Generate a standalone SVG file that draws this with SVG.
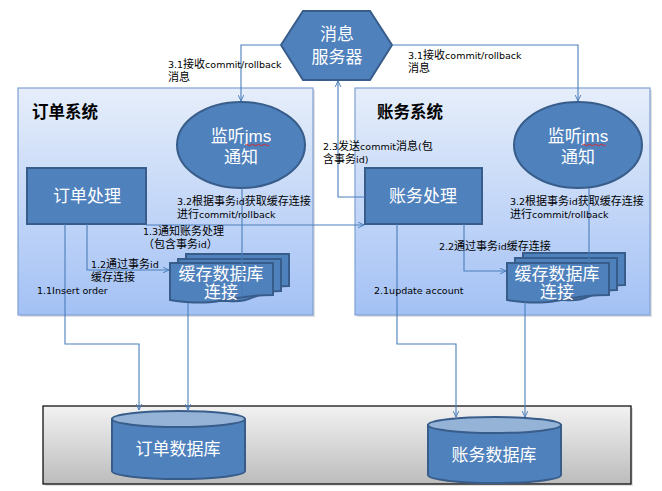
<svg xmlns="http://www.w3.org/2000/svg" width="662" height="491" viewBox="0 0 662 491">
<style>
.sys{stroke:#7f9fd3;stroke-width:1.2;fill:url(#sysg)}
.shadow{fill:#000;opacity:0.12}
.node{fill:#4f81bd;stroke:#385d8a;stroke-width:2}
.dbtop{fill:#95b3d7;stroke:#385d8a;stroke-width:2}
.wt{fill:#fff;font-family:"Liberation Sans","Noto Sans CJK SC",sans-serif;font-size:17px;text-anchor:middle}
.title{fill:#000;font-family:"Noto Sans CJK SC",sans-serif;font-size:16.5px;font-weight:bold}
.lb{fill:#000;font-family:"DejaVu Sans","Noto Sans CJK SC",sans-serif;font-size:9.5px}
.c{font-size:11px}
.cn{fill:none;stroke:#4a7ebb;stroke-width:1.1}
.arr{marker-end:url(#ah)}
.sq{fill:none;stroke:#e02020;stroke-width:0.9}
</style>
<defs>
<linearGradient id="sysg" x1="0" y1="0" x2="0" y2="1">
<stop offset="0" stop-color="#e6eefa"/>
<stop offset="1" stop-color="#a3c1f5"/>
</linearGradient>
<linearGradient id="grayg" x1="0" y1="0" x2="0" y2="1">
<stop offset="0" stop-color="#f2f2f2"/>
<stop offset="1" stop-color="#bcbcbc"/>
</linearGradient>
<marker id="ah" viewBox="0 0 10 10" refX="9.5" refY="5" markerWidth="7" markerHeight="7" markerUnits="userSpaceOnUse" orient="auto">
<path d="M1,1 L9.5,5 L1,9" fill="none" stroke="#4a7ebb" stroke-width="1.4"/>
</marker>
</defs>

<g id="order-system">
<rect class="shadow" x="20" y="90" width="295" height="227"/>
<rect class="sys" x="18" y="88" width="295" height="227"/>
<text class="title" x="32" y="118">订单系统</text>
</g>
<g id="account-system">
<rect class="shadow" x="357" y="90" width="295" height="227"/>
<rect class="sys" x="355" y="88" width="295" height="227"/>
<text class="title" x="377" y="118">账务系统</text>
</g>
<g id="db-container">
<rect class="shadow" x="45" y="408" width="588" height="78"/>
<rect x="43" y="406" width="588" height="78" fill="url(#grayg)" stroke="#000" stroke-width="1.2"/>
</g>

<g id="msg-server">
<polygon class="node" points="281,45 303,11 370,11 392,45 370,80 303,80"/>
<text class="wt"><tspan x="337" y="40">消息</tspan><tspan x="337" y="63">服务器</tspan></text>
</g>

<g id="order-listener">
<ellipse class="node" cx="241" cy="145" rx="64" ry="43"/>
<text class="wt"><tspan x="241" y="142">监听jms</tspan><tspan x="241" y="163">通知</tspan></text>
<path class="sq" d="M245,145 q1.5,-1.5 3,0 t3,0 t3,0 t3,0 t3,0 t3,0 t3,0 t3,0"/>
</g>
<g id="account-listener">
<ellipse class="node" cx="578" cy="145" rx="64" ry="43"/>
<text class="wt"><tspan x="578" y="142">监听jms</tspan><tspan x="578" y="163">通知</tspan></text>
<path class="sq" d="M582,145 q1.5,-1.5 3,0 t3,0 t3,0 t3,0 t3,0 t3,0 t3,0 t3,0"/>
</g>

<g id="order-process">
<rect class="node" x="27" y="168" width="119" height="56"/>
<text class="wt" x="87" y="202" font-size="18">订单处理</text>
</g>
<g id="account-process">
<rect class="node" x="365" y="168" width="117" height="56"/>
<text class="wt" x="423" y="202" font-size="18">账务处理</text>
</g>

<g id="order-cache">
<path class="node" d="M186,254 H289 V286 C263,286 263,298 236,296 L186,296 Z"/>
<path class="node" d="M178,259 H281 V291 C255,291 255,303 228,301 L178,301 Z"/>
<path class="node" d="M170,263 H273 V295 C222,295 222,308 170,300 Z"/>
<text class="wt" font-size="16.5"><tspan x="221" y="279.5">缓存数据库</tspan><tspan x="221" y="298">连接</tspan></text>
</g>
<g id="account-cache">
<path class="node" d="M523,253 H625 V285 C599,285 599,297 573,295 L523,295 Z"/>
<path class="node" d="M515,258 H617 V290 C591,290 591,302 565,300 L515,300 Z"/>
<path class="node" d="M507,263 H609 V295 C558,295 558,308 507,300 Z"/>
<text class="wt" font-size="16.5"><tspan x="557" y="279.5">缓存数据库</tspan><tspan x="557" y="298">连接</tspan></text>
</g>

<g id="order-db">
<path class="node" d="M112,419 V471 A66.5,8 0 0 0 245,471 V419 Z"/>
<ellipse class="dbtop" cx="178.5" cy="419" rx="66.5" ry="8"/>
<text class="wt" x="178" y="455">订单数据库</text>
</g>
<g id="account-db">
<path class="node" d="M428,425 V475 A66.5,8 0 0 0 561,475 V425 Z"/>
<ellipse class="dbtop" cx="494.5" cy="425" rx="66.5" ry="8"/>
<text class="wt" x="494" y="461">账务数据库</text>
</g>

<g id="connectors">
<path class="cn arr" d="M281,45 H241 V101"/>
<path class="cn arr" d="M392,45 H578 V101"/>
<path class="cn arr" d="M365,197 H338 V81"/>
<path class="cn arr" d="M146,225 H364"/>
<path class="cn arr" d="M87,224 V270 H169"/>
<path class="cn arr" d="M65,224 V344 H139 V410"/>
<path class="cn" d="M242,188 V297"/>
<path class="cn arr" d="M188,303 V410"/>
<path class="cn arr" d="M464,224 V271 H506"/>
<path class="cn arr" d="M397,224 V344 H456 V417"/>
<path class="cn" d="M589,188 V263"/>
<path class="cn arr" d="M525,302 V417"/>
</g>

<g id="labels">
<text class="lb"><tspan x="168" y="68">3.1<tspan class="c">接收</tspan>commit/rollback</tspan><tspan x="168" y="81" class="c">消息</tspan></text>
<text class="lb"><tspan x="408" y="59">3.1<tspan class="c">接收</tspan>commit/rollback</tspan><tspan x="408" y="72" class="c">消息</tspan></text>
<text class="lb"><tspan x="177" y="205">3.2<tspan class="c">根据事务</tspan>id<tspan class="c">获取缓存连接</tspan></tspan><tspan x="177" y="218"><tspan class="c">进行</tspan>commit/rollback</tspan></text>
<text class="lb"><tspan x="143" y="235">1.3<tspan class="c">通知账务处理</tspan></tspan><tspan x="143" y="248"><tspan class="c">（包含事务</tspan>id<tspan class="c">）</tspan></tspan></text>
<text class="lb"><tspan x="91" y="268">1.2<tspan class="c">通过事务</tspan>id</tspan><tspan x="91" y="281" class="c">缓存连接</tspan></text>
<text class="lb" x="37" y="294">1.1Insert order</text>
<text class="lb"><tspan x="323" y="150">2.3<tspan class="c">发送</tspan>commit<tspan class="c">消息</tspan>(<tspan class="c">包</tspan></tspan><tspan x="323" y="163"><tspan class="c">含事务</tspan>id)</tspan></text>
<text class="lb"><tspan x="510" y="205">3.2<tspan class="c">根据事务</tspan>id<tspan class="c">获取缓存连接</tspan></tspan><tspan x="510" y="218"><tspan class="c">进行</tspan>commit/rollback</tspan></text>
<text class="lb" x="439" y="250">2.2<tspan class="c">通过事务</tspan>id<tspan class="c">缓存连接</tspan></text>
<text class="lb" x="374" y="294">2.1update account</text>
</g>
</svg>
